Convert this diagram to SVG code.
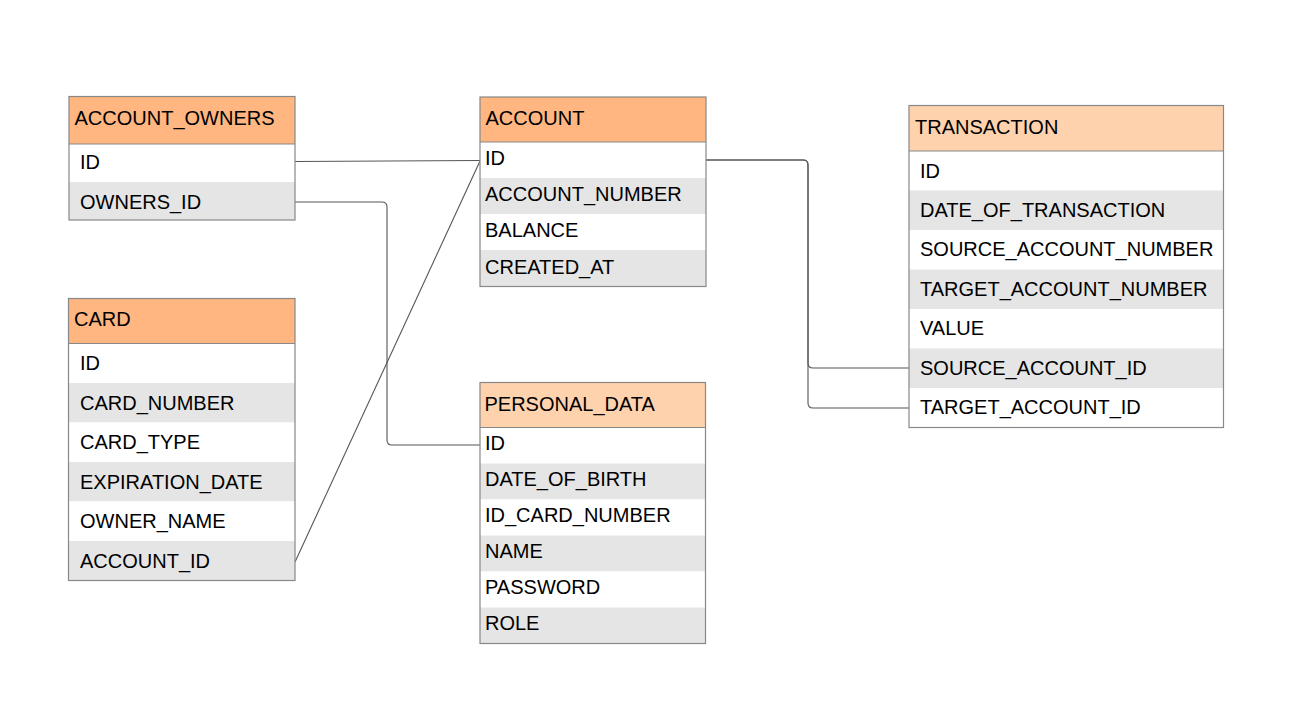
<svg xmlns="http://www.w3.org/2000/svg" width="1305" height="714" viewBox="0 0 1305 714">
<style>
.t{font-family:"Liberation Sans",Arial,sans-serif;font-size:20px;fill:#000}
.hd{fill:#FFB681}
.hl{fill:#FFD2AE}
.w{fill:#FFFFFF}
.g{fill:#E5E5E5}
.b{fill:none;stroke:#888888;stroke-width:1.2}
.sep{stroke:#888888;stroke-width:1.2}
.c{fill:none;stroke:#555555;stroke-width:1.1}
</style>
<rect width="1305" height="714" fill="#FFFFFF"/>
<g id="connectors">
<path class="c" d="M295,161.5 L480,160.5"/>
<path class="c" d="M295,202 H382 Q387,202 387,207 V440 Q387,445 392,445 H480"/>
<path class="c" d="M295,562 L480,161"/>
<path class="c" d="M706,160 H803 Q808,160 808,165 V363 Q808,368 813,368 H909"/>
<path class="c" d="M706,160 H803 Q808,160 808,165 V403 Q808,408 813,408 H909"/>
</g>
<g id="account_owners">
<rect class="hd" x="69" y="96.5" width="226" height="47.5"/>
<rect class="w" x="69" y="144" width="226" height="38"/>
<rect class="g" x="69" y="182" width="226" height="38"/>
<line class="sep" x1="69" y1="144" x2="295" y2="144"/>
<rect class="b" x="69" y="96.5" width="226" height="123.5"/>
<text class="t" x="74.5" y="124.5">ACCOUNT_OWNERS</text>
<text class="t" x="80" y="168.5">ID</text>
<text class="t" x="80" y="208.5">OWNERS_ID</text>
</g>
<g id="account">
<rect class="hd" x="480" y="97" width="226" height="45"/>
<rect class="w" x="480" y="142" width="226" height="36"/>
<rect class="g" x="480" y="178" width="226" height="36"/>
<rect class="w" x="480" y="214" width="226" height="36"/>
<rect class="g" x="480" y="250" width="226" height="36.5"/>
<line class="sep" x1="480" y1="142" x2="706" y2="142"/>
<rect class="b" x="480" y="97" width="226" height="189.5"/>
<text class="t" x="485.5" y="125">ACCOUNT</text>
<text class="t" x="485" y="165">ID</text>
<text class="t" x="485" y="201">ACCOUNT_NUMBER</text>
<text class="t" x="485" y="237">BALANCE</text>
<text class="t" x="485" y="273.5">CREATED_AT</text>
</g>
<g id="transaction">
<rect class="hl" x="909" y="105.5" width="314.5" height="45.5"/>
<rect class="w" x="909" y="151" width="314.5" height="39.5"/>
<rect class="g" x="909" y="190.5" width="314.5" height="39.5"/>
<rect class="w" x="909" y="230" width="314.5" height="39.5"/>
<rect class="g" x="909" y="269.5" width="314.5" height="39.5"/>
<rect class="w" x="909" y="309" width="314.5" height="39.5"/>
<rect class="g" x="909" y="348.5" width="314.5" height="39.5"/>
<rect class="w" x="909" y="388" width="314.5" height="39.5"/>
<line class="sep" x1="909" y1="151" x2="1223.5" y2="151"/>
<rect class="b" x="909" y="105.5" width="314.5" height="322"/>
<text class="t" x="915" y="133.5">TRANSACTION</text>
<text class="t" x="920" y="177.5">ID</text>
<text class="t" x="920" y="216.5">DATE_OF_TRANSACTION</text>
<text class="t" x="920" y="256">SOURCE_ACCOUNT_NUMBER</text>
<text class="t" x="920" y="295.5">TARGET_ACCOUNT_NUMBER</text>
<text class="t" x="920" y="335">VALUE</text>
<text class="t" x="920" y="374.5">SOURCE_ACCOUNT_ID</text>
<text class="t" x="920" y="414">TARGET_ACCOUNT_ID</text>
</g>
<g id="card">
<rect class="hd" x="68.5" y="298.5" width="226.5" height="45"/>
<rect class="w" x="68.5" y="343.5" width="226.5" height="39.5"/>
<rect class="g" x="68.5" y="383" width="226.5" height="39.5"/>
<rect class="w" x="68.5" y="422.5" width="226.5" height="39.5"/>
<rect class="g" x="68.5" y="462" width="226.5" height="39.5"/>
<rect class="w" x="68.5" y="501.5" width="226.5" height="39.5"/>
<rect class="g" x="68.5" y="541" width="226.5" height="39.5"/>
<line class="sep" x1="68.5" y1="343.5" x2="295" y2="343.5"/>
<rect class="b" x="68.5" y="298.5" width="226.5" height="282"/>
<text class="t" x="74" y="326">CARD</text>
<text class="t" x="80" y="370">ID</text>
<text class="t" x="80" y="409.5">CARD_NUMBER</text>
<text class="t" x="80" y="449">CARD_TYPE</text>
<text class="t" x="80" y="488.5">EXPIRATION_DATE</text>
<text class="t" x="80" y="528">OWNER_NAME</text>
<text class="t" x="80" y="567.5">ACCOUNT_ID</text>
</g>
<g id="personal_data">
<rect class="hl" x="480" y="382.5" width="225.5" height="45"/>
<rect class="w" x="480" y="427.5" width="225.5" height="36"/>
<rect class="g" x="480" y="463.5" width="225.5" height="36"/>
<rect class="w" x="480" y="499.5" width="225.5" height="36"/>
<rect class="g" x="480" y="535.5" width="225.5" height="36"/>
<rect class="w" x="480" y="571.5" width="225.5" height="36"/>
<rect class="g" x="480" y="607.5" width="225.5" height="36"/>
<line class="sep" x1="480" y1="427.5" x2="705.5" y2="427.5"/>
<rect class="b" x="480" y="382.5" width="225.5" height="261"/>
<text class="t" x="484.5" y="410.5">PERSONAL_DATA</text>
<text class="t" x="485" y="450">ID</text>
<text class="t" x="485" y="486">DATE_OF_BIRTH</text>
<text class="t" x="485" y="522">ID_CARD_NUMBER</text>
<text class="t" x="485" y="558">NAME</text>
<text class="t" x="485" y="594">PASSWORD</text>
<text class="t" x="485" y="630">ROLE</text>
</g>
</svg>
